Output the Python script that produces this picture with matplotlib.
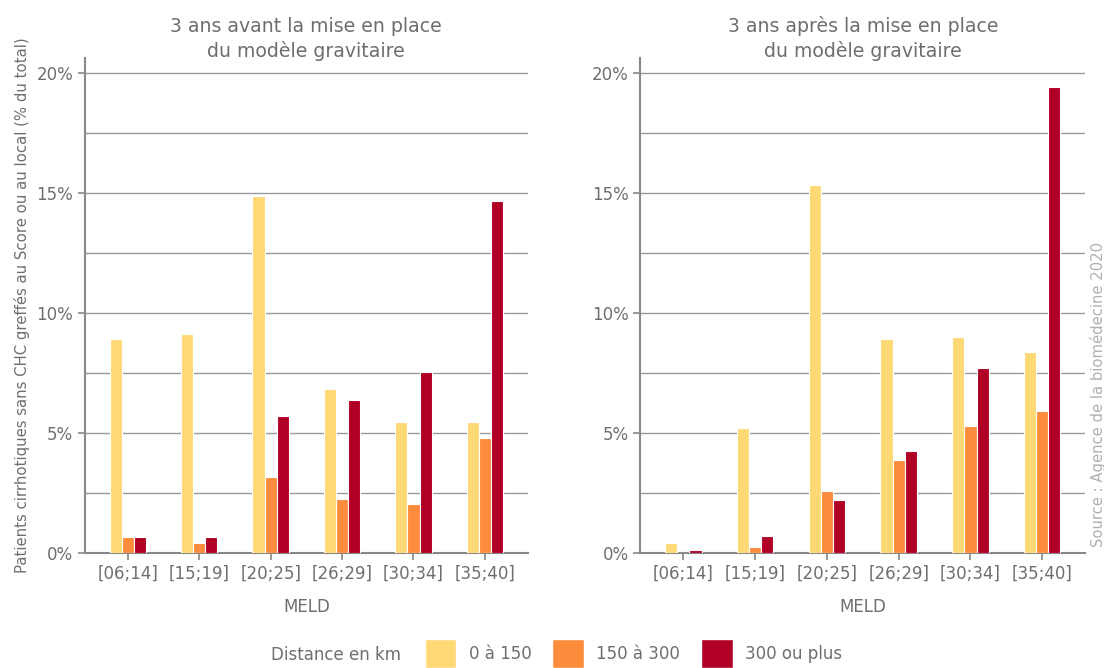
import matplotlib.pyplot as plt
import numpy as np
from matplotlib.patches import Patch
from matplotlib.ticker import FuncFormatter, MultipleLocator

plt.rcParams["font.family"] = ["DejaVu Sans"]

categories = ["[06;14]", "[15;19]", "[20;25]", "[26;29]", "[30;34]", "[35;40]"]
series_labels = ["0 à 150", "150 à 300", "300 ou plus"]
colors = ["#FED976", "#FD8D3C", "#B10026"]

avant_0_150 = [8.9, 9.1, 14.85, 6.82, 5.45, 5.45]
avant_150_300 = [0.65, 0.42, 3.16, 2.25, 2.04, 4.78]
avant_300_plus = [0.65, 0.65, 5.7, 6.36, 7.53, 14.64]

apres_0_150 = [0.42, 5.2, 15.34, 8.9, 8.98, 8.36]
apres_150_300 = [0.0, 0.27, 2.58, 3.87, 5.28, 5.9]
apres_300_plus = [0.14, 0.7, 2.2, 4.24, 7.69, 19.38]

titles = ["3 ans avant la mise en place\ndu modèle gravitaire",
          "3 ans après la mise en place\ndu modèle gravitaire"]

TEXT = "#6e6e6e"
GRID = "#9a9a9a"

fig = plt.figure(figsize=(11.04, 6.68), dpi=100)
ax1 = fig.add_axes([0.077, 0.172, 0.401, 0.741])
ax2 = fig.add_axes([0.580, 0.172, 0.403, 0.741])

panels = [
    (ax1, [avant_0_150, avant_150_300, avant_300_plus]),
    (ax2, [apres_0_150, apres_150_300, apres_300_plus]),
]

x = np.arange(len(categories))
width = 0.17
for i, (ax, data) in enumerate(panels):
    for j, vals in enumerate(data):
        ax.bar(x + (j - 1) * width, vals, width, color=colors[j],
               edgecolor="white", linewidth=0.8, zorder=3)
    ax.set_xlim(-0.6, 5.6)
    ax.set_ylim(0, 20.6)
    ax.yaxis.set_major_locator(MultipleLocator(5))
    ax.yaxis.set_minor_locator(MultipleLocator(2.5))
    ax.yaxis.set_major_formatter(FuncFormatter(lambda v, p: f"{v:.0f}%"))
    ax.grid(True, axis="y", which="both", color=GRID, linewidth=1, zorder=0)
    ax.set_xticks(x)
    ax.set_xticklabels(categories)
    for s in ["top", "right"]:
        ax.spines[s].set_visible(False)
    for s in ["left", "bottom"]:
        ax.spines[s].set_color("#888888")
        ax.spines[s].set_linewidth(1.5)
    ax.tick_params(axis="both", which="both", colors="#888888",
                   labelcolor=TEXT, labelsize=12, length=5, width=1.2)
    ax.tick_params(axis="y", which="minor", length=0)
    ax.set_xlabel("MELD", color=TEXT, fontsize=12, labelpad=11)
    ax.set_title(titles[i], color=TEXT, fontsize=13.6, pad=0, y=1.003,
                 linespacing=1.3)

ax1.set_ylabel("Patients cirrhotiques sans CHC greffés au Score ou au local (% du total)",
               color=TEXT, fontsize=10.7, labelpad=5)

fig.text(0.9945, 0.409, "Source : Agence de la biomédecine 2020", rotation=90,
         color="#b0b0b0", fontsize=10.6, ha="center", va="center")

handles = [Patch(facecolor=c, edgecolor="white") for c in colors]
fig.text(0.304, 0.019, "Distance en km", color=TEXT, fontsize=12,
         ha="center", va="center")
fig.legend(handles, series_labels, loc="center left", bbox_to_anchor=(0.377, 0.021),
           ncol=3, frameon=False, fontsize=12, labelcolor=TEXT,
           handlelength=1.9, handleheight=2.3, handletextpad=0.75,
           columnspacing=1.25, borderpad=0)

fig.savefig("out.png", dpi=100)
